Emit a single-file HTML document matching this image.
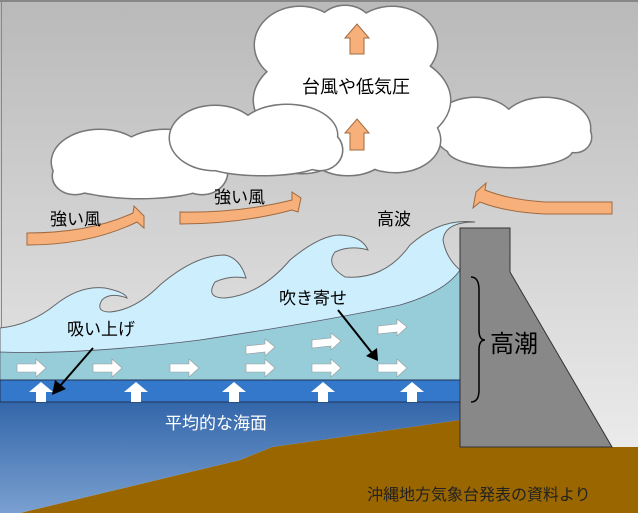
<!DOCTYPE html>
<html><head><meta charset="utf-8"><style>
html,body{margin:0;padding:0;width:638px;height:513px;overflow:hidden;background:#fff}
svg{display:block}
text{font-family:"Liberation Sans","Noto Sans CJK JP",sans-serif;}
</style></head><body>
<svg width="638" height="513" viewBox="0 0 638 513" xmlns="http://www.w3.org/2000/svg" xmlns:xlink="http://www.w3.org/1999/xlink">
<defs>
<linearGradient id="bg" x1="0" y1="0" x2="0" y2="1"><stop offset="0" stop-color="#b9b9b9"/><stop offset="1" stop-color="#f2f2f2"/></linearGradient>
<linearGradient id="sea" x1="0" y1="0" x2="0" y2="1"><stop offset="0" stop-color="#3366aa"/><stop offset="1" stop-color="#7aa0d0"/></linearGradient>
<g id="big"><ellipse cx="300" cy="45" rx="45" ry="38"/><ellipse cx="392" cy="45" rx="45" ry="38"/><ellipse cx="345" cy="38" rx="32" ry="32"/>
<ellipse cx="352" cy="100" rx="98" ry="55"/><ellipse cx="302" cy="145" rx="42" ry="28"/><ellipse cx="395" cy="140" rx="45" ry="32"/><ellipse cx="348" cy="150" rx="40" ry="25"/></g>
<g id="rc"><ellipse cx="475" cy="128" rx="42" ry="30"/><ellipse cx="545" cy="128" rx="45" ry="30"/><ellipse cx="510" cy="150" rx="62" ry="17"/><ellipse cx="575" cy="137" rx="16" ry="15"/></g>
<g id="ca"><ellipse cx="100" cy="162" rx="48" ry="32"/><ellipse cx="165" cy="160" rx="50" ry="30"/><ellipse cx="140" cy="182" rx="70" ry="16"/><ellipse cx="202" cy="172" rx="25" ry="22"/><ellipse cx="75" cy="176" rx="22" ry="18"/></g>
<g id="cb"><ellipse cx="215" cy="138" rx="45" ry="32"/><ellipse cx="287" cy="135" rx="50" ry="30"/><ellipse cx="262" cy="160" rx="62" ry="15"/><ellipse cx="320" cy="150" rx="22" ry="20"/></g>
</defs>
<rect width="638" height="513" fill="url(#bg)"/>
<line x1="0" y1="1" x2="638" y2="1" stroke="#777" stroke-width="1.5"/>
<line x1="1.5" y1="0" x2="1.5" y2="513" stroke="#888" stroke-width="1"/>

<use xlink:href="#rc" fill="#fff" stroke="#777" stroke-width="3"/><use xlink:href="#rc" fill="#fff" stroke="none"/>
<use xlink:href="#big" fill="#fff" stroke="#777" stroke-width="3"/><use xlink:href="#big" fill="#fff" stroke="none"/>
<use xlink:href="#ca" fill="#fff" stroke="#777" stroke-width="3"/><use xlink:href="#ca" fill="#fff" stroke="none"/>
<use xlink:href="#cb" fill="#fff" stroke="#777" stroke-width="3"/><use xlink:href="#cb" fill="#fff" stroke="none"/>

<g fill="#f7b07a" stroke="#a06a40" stroke-width="1">
<polygon points="350,54 350,38 345,38 357,24 369,38 364,38 364,54"/>
<polygon points="350,150 350,133 345,133 357,119 369,133 364,133 364,150"/>
</g>
<text x="302" y="93" font-size="18">台風や低気圧</text>

<g fill="#f7b07a" stroke="#a06a40" stroke-width="1">
<path d="M27,233 L27,245 Q90,245 137,222 L144,228 L144,216 L134,206 L133,213 Q90,233 27,233Z"/>
<path d="M180,212 L180,224 Q240,224 292,210 L298,212 L301,198 L292,192 L292,200 Q240,213 180,212Z"/>
<path d="M612,202 L612,214 L545,214 Q505,212 480,202 L473,208 L476,192 L486,183 L485,190 Q510,200 545,202Z"/>
</g>
<text x="50" y="225" font-size="17">強い風</text>
<text x="214" y="203" font-size="17">強い風</text>
<text x="377" y="225" font-size="17">高波</text>

<polygon points="20,513 240,460 272,447 460,420 460,447 638,447 638,513" fill="#996600"/>
<polygon points="0,402 460,402 460,420 272,447 240,460 20,513 0,513" fill="url(#sea)"/>
<path d="M0,328 Q30,325 55,305 Q80,285 105,288 Q125,292 127,298 Q110,292 102,300 Q95,312 110,312 Q135,310 160,285 Q195,255 225,255 Q240,258 246,278 Q230,275 215,282 Q205,298 225,298 Q260,295 290,260 Q320,235 340,235 Q362,236 368,250 Q350,245 335,252 Q325,265 345,277 Q385,280 410,245 Q440,218 475,222 Q445,222 443,240 Q446,258 460,270 L460,380 L0,380Z" fill="#cdeefc" stroke="#666" stroke-width="1"/>
<path d="M0,352 Q80,355 200,340 Q320,322 400,305 Q445,292 460,270 L460,380 L0,380Z" fill="#97cdd8" stroke="#556" stroke-width="0.8"/>
<rect x="0" y="380" width="460" height="22" fill="#3478cc" stroke="#235" stroke-width="1"/>

<g fill="#fff" stroke="#999" stroke-width="0.6">
<polygon points="17,364 36,364 36,359 46,368 36,377 36,372 17,372"/>
<polygon points="93,364 112,364 112,359 122,368 112,377 112,372 93,372"/>
<polygon points="170,364 189,364 189,359 199,368 189,377 189,372 170,372"/>
<polygon points="246,364 265,364 265,359 275,368 265,377 265,372 246,372"/>
<polygon points="312,364 331,364 331,359 341,368 331,377 331,372 312,372"/>
<polygon points="378,364 397,364 397,359 407,368 397,377 397,372 378,372"/>
<polygon points="246,346 265,344 265,339 275,347 265,356 265,352 246,354"/>
<polygon points="312,340 331,338 331,333 341,341 331,350 331,346 312,348"/>
<polygon points="378,326 397,324 397,319 407,327 397,336 397,332 378,334"/>
</g>
<g fill="#fff">
<polygon points="36,402 36,392 29,392 41,382 53,392 46,392 46,402"/>
<polygon points="131,402 131,392 124,392 136,382 148,392 141,392 141,402"/>
<polygon points="229,402 229,392 222,392 234,382 246,392 239,392 239,402"/>
<polygon points="318,402 318,392 311,392 323,382 335,392 328,392 328,402"/>
<polygon points="407,402 407,392 400,392 412,382 424,392 417,392 417,402"/>
</g>
<g stroke="#000" stroke-width="2" fill="#000">
<line x1="93" y1="348" x2="60" y2="386"/><polygon points="52,395 55,380 66,389" stroke="none"/>
<line x1="338" y1="310" x2="372" y2="353"/><polygon points="378,361 366,356 377,348" stroke="none"/>
</g>
<text x="67" y="335" font-size="17">吸い上げ</text>
<text x="279" y="304" font-size="17">吹き寄せ</text>
<text x="165" y="429" font-size="17" fill="#fff">平均的な海面</text>

<polygon points="460,228 510,228 510,272 612,447 460,447" fill="#888" stroke="#333" stroke-width="1"/>
<path d="M471,277 Q479,277 479,290 L479,330 Q479,340 485,340 Q479,340 479,350 L479,390 Q479,402 471,402" fill="none" stroke="#000" stroke-width="1.5"/>
<text x="490" y="352" font-size="24">高潮</text>
<text x="367" y="500" font-size="16" fill="#222">沖縄地方気象台発表の資料より</text>
</svg>
</body></html>
